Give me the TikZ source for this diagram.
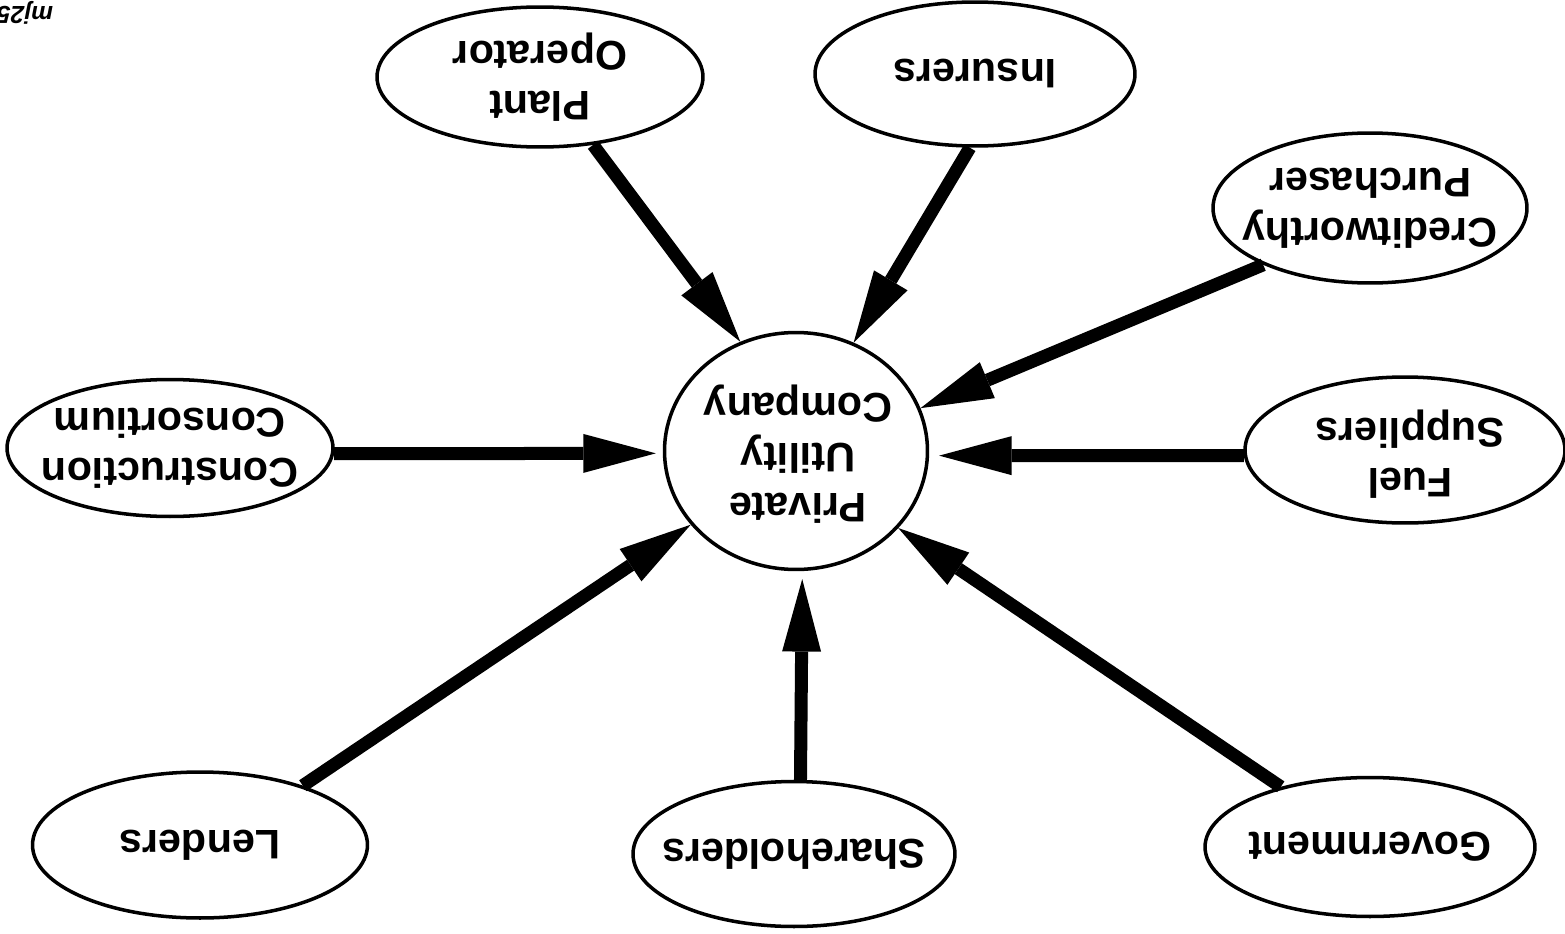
\documentclass[tikz,border=0pt]{standalone}
\usepackage{fontspec}
\setmainfont{Liberation Sans}
\usetikzlibrary{shapes.geometric,arrows.meta}
\begin{document}
\begin{tikzpicture}[x=0.02cm,y=-0.02cm,
  party/.style={ellipse, draw, line width=2pt, inner sep=0pt},
  lbl/.style={rotate=180, align=center, inner sep=0pt,
    font=\fontsize{23.5}{28.5}\selectfont\bfseries},
  feed/.style={line width=7.4pt,
    -{Triangle[length=1.45cm,width=0.78cm,line width=0pt]}}]

% page frame
\fill[white] (0,0) rectangle (1565,933);
\useasboundingbox (0,0) rectangle (1565,933);

% hub
\node[party, minimum width=5.26cm, minimum height=4.74cm] (puc) at (796,451) {};
\node[lbl] (puc-t) at (798,454) {Private\\Utility\\Company};

% parties around the hub
\node[party, minimum width=6.52cm, minimum height=2.80cm] (po) at (540,77) {};
\node[lbl] (po-t) at (po) {Plant\\Operator};

\node[party, minimum width=6.40cm, minimum height=2.88cm] (ins) at (975,74) {};
\node[lbl] (ins-t) at (ins) {Insurers};

\node[party, minimum width=6.28cm, minimum height=3.00cm] (cp) at (1370,208) {};
\node[lbl] (cp-t) at (cp) {Creditworthy\\Purchaser};

\node[party, minimum width=6.40cm, minimum height=2.92cm] (fs) at (1405,450) {};
\node[lbl] (fs-t) at (1410,454) {Fuel\\Suppliers};

\node[party, minimum width=6.60cm, minimum height=2.78cm] (gov) at (1370,847) {};
\node[lbl] (gov-t) at (gov) {Government};

\node[party, minimum width=6.44cm, minimum height=2.90cm] (sh) at (794,854) {};
\node[lbl] (sh-t) at (sh) {Shareholders};

\node[party, minimum width=6.70cm, minimum height=2.92cm] (len) at (200,845) {};
\node[lbl] (len-t) at (len) {Lenders};

\node[party, minimum width=6.52cm, minimum height=2.74cm] (cc) at (170,448) {};
\node[lbl] (cc-t) at (cc) {Construction\\Consortium};

% figure tag
\node[rotate=180, inner sep=0pt, font=\fontsize{14}{16}\selectfont\bfseries\itshape] (tag) at (25,13) {mj25};

% flows into the hub
\draw[feed] (po.-52.9) -- (puc.117.2);
\draw[feed] (ins.266.2) -- (puc.62.3);
\draw[feed] (cp.208.1) -- (puc.19.1);
\draw[feed, shorten >=0.2cm] (fs.182.5) -- (puc.-2.4);
\draw[feed] (gov.146) -- (puc.-37.5);
\draw[feed, shorten >=0.16cm] (sh.85.2) -- (puc.-87.3);
\draw[feed] (len.30) -- (puc.215.3);
\draw[feed, shorten >=0.14cm] (cc.-2.5) -- (puc.181.7);
\end{tikzpicture}
\end{document}
